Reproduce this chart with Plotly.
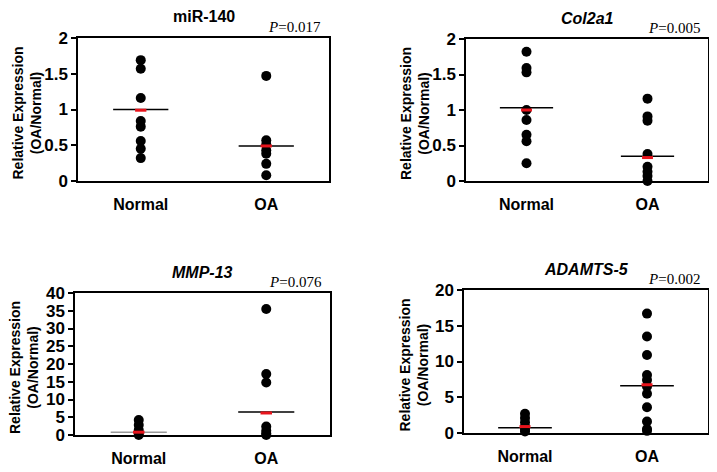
import plotly.graph_objects as go

# the page body has an 8px margin, so the figure starts at (8, 8)
OFF = 8
W, H = 717 - OFF, 472 - OFF

groups = ['Normal', 'OA']
group_x = [1, 2]

titles = ['miR-140', '<i>Col2a1</i>', '<i>MMP-13</i>', '<i>ADAMTS-5</i>']
p_values = ['0.017', '0.005', '0.076', '0.002']
y_ranges = [[0, 2], [0, 2], [0, 40], [0, 20]]
y_dticks = [0.5, 0.5, 5, 5]

mir140_normal = [1.69, 1.57, 1.16, 0.84, 0.76, 0.56, 0.45, 0.32]
mir140_oa = [1.47, 0.57, 0.51, 0.43, 0.38, 0.24, 0.08]
col2a1_normal = [1.82, 1.59, 1.53, 1.0, 0.86, 0.65, 0.56, 0.25]
col2a1_oa = [1.16, 0.91, 0.85, 0.38, 0.2, 0.13, 0.07, 0.0]
mmp13_normal = [4.2, 2.8, 1.4, 0.5, 0.0]
mmp13_oa = [35.5, 17.2, 14.8, 2.4, 1.2, 0.5, 0.0]
adamts5_normal = [2.7, 2.1, 1.5, 0.9, 0.45, 0.2]
adamts5_oa = [16.7, 13.5, 10.9, 8.1, 7.4, 6.5, 5.5, 3.6, 1.6, 0.55, 0.3]

normal_vals = [mir140_normal, col2a1_normal, mmp13_normal, adamts5_normal]
oa_vals = [mir140_oa, col2a1_oa, mmp13_oa, adamts5_oa]

# mean line (black/grey) and red marker per group
mean_lines = [[1.0, 0.49], [1.03, 0.35], [0.75, 6.5], [0.75, 6.6]]
red_marks = [[0.99, 0.49], [1.0, 0.33], [0.8, 6.2], [0.9, 6.75]]
mean_colors = [['black', 'black'], ['black', 'black'], ['#999999', 'black'], ['black', 'black']]

# panel boxes in window pixels: left, right, top, bottom
boxes = [(78, 329, 38, 181), (466, 708, 39, 181),
         (75, 330, 293, 435), (464, 708, 290, 433)]

sans = 'Liberation Sans, Arial, sans-serif'
serif = 'Liberation Serif, Times New Roman, serif'


def px(v):
    return (v - OFF) / W


def py(v):
    return 1 - (v - OFF) / H


fig = go.Figure()

for i in range(4):
    l, r, t, b = boxes[i]
    n = '' if i == 0 else str(i + 1)
    xa, ya = 'x' + n, 'y' + n

    for gx, vals in zip(group_x, [normal_vals[i], oa_vals[i]]):
        fig.add_trace(go.Scatter(x=[gx] * len(vals), y=vals, mode='markers',
                                 marker=dict(color='black', size=10),
                                 cliponaxis=False, showlegend=False,
                                 xaxis=xa, yaxis=ya))
    for j, gx in enumerate(group_x):
        fig.add_trace(go.Scatter(x=[gx - 0.22, gx + 0.22],
                                 y=[mean_lines[i][j]] * 2, mode='lines',
                                 line=dict(color=mean_colors[i][j], width=1.5),
                                 showlegend=False, xaxis=xa, yaxis=ya))
        fig.add_trace(go.Scatter(x=[gx - 0.045, gx + 0.045],
                                 y=[red_marks[i][j]] * 2, mode='lines',
                                 line=dict(color='#e8141c', width=3),
                                 showlegend=False, xaxis=xa, yaxis=ya))

    axis_common = dict(showline=True, linecolor='black', linewidth=1.5,
                       mirror=True, showgrid=False, zeroline=False,
                       automargin=False)
    fig.update_layout(**{
        'xaxis' + n: dict(domain=[px(l), px(r)], range=[0.5, 2.5],
                          tickvals=group_x, ticktext=groups, ticks='',
                          ticklabelstandoff=8, anchor=ya,
                          tickfont=dict(family=sans, size=16, color='black',
                                        weight='bold'),
                          **axis_common),
        'yaxis' + n: dict(domain=[py(b), py(t)], range=y_ranges[i],
                          dtick=y_dticks[i], ticks='outside', ticklen=5,
                          tickwidth=1.5, tickcolor='black', anchor=xa,
                          tickfont=dict(family=sans, size=17, color='black',
                                        weight='bold'),
                          **axis_common),
    })

    fig.add_annotation(text='<b>' + titles[i] + '</b>', xref='paper', yref='paper',
                       x=px((l + r) / 2), y=py(t - 21),
                       xanchor='center', yanchor='middle', showarrow=False,
                       font=dict(family=sans, size=16, color='black'))
    fig.add_annotation(text='<i>P</i>=' + p_values[i], xref='paper', yref='paper',
                       x=px(r - 6), y=py(t - 1),
                       xanchor='right', yanchor='bottom', showarrow=False,
                       font=dict(family=serif, size=15, color='black'))
    fig.add_annotation(text='<b>Relative Expression<br>(OA/Normal)</b>',
                       xref='paper', yref='paper', textangle=-90,
                       x=px(l - 51), y=py((t + b) / 2 + 4),
                       xanchor='center', yanchor='middle', showarrow=False,
                       font=dict(family=sans, size=14, color='black'))

fig.update_layout(width=W, height=H, margin=dict(l=0, r=0, t=0, b=0),
                  paper_bgcolor='white', plot_bgcolor='white')

fig.write_html('out.html')
